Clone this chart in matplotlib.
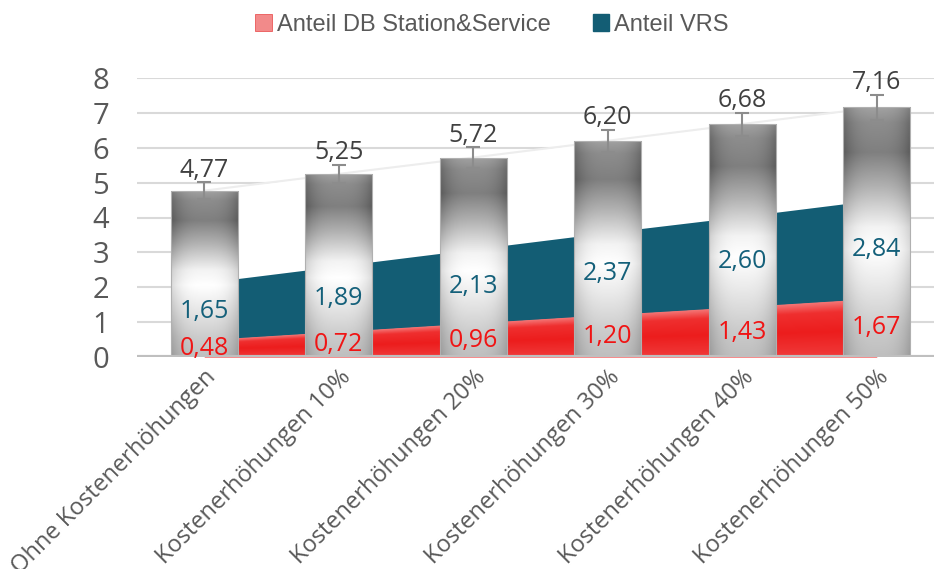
import numpy as np
import matplotlib.pyplot as plt
from matplotlib.patches import Patch
from matplotlib.colors import LinearSegmentedColormap

# --- Data ---
categories = ["Ohne Kostenerhöhungen", "Kostenerhöhungen 10%", "Kostenerhöhungen 20%",
              "Kostenerhöhungen 30%", "Kostenerhöhungen 40%", "Kostenerhöhungen 50%"]
db_share = [0.48, 0.72, 0.96, 1.20, 1.43, 1.67]
vrs_share = [1.65, 1.89, 2.13, 2.37, 2.60, 2.84]
totals = [4.77, 5.25, 5.72, 6.20, 6.68, 7.16]
errors = [0.24, 0.26, 0.29, 0.31, 0.33, 0.36]
legend_labels = ["Anteil DB Station&Service", "Anteil VRS"]

# --- Style ---
GREY_TXT = '#595959'
TEAL = '#135d74'
RED = '#ee1c1c'
plt.rcParams['font.family'] = ['Open Sans', 'DejaVu Sans']

fig = plt.figure(figsize=(9.34, 5.69), dpi=100)
ax = fig.add_axes([137 / 934, 212 / 569, 807 / 934, 279 / 569])

x = np.arange(len(categories))
db = np.array(db_share)
vrs_top = db + np.array(vrs_share)
tot = np.array(totals)

# grid + baseline
ax.set_axisbelow(True)
ax.yaxis.grid(True, color='#d9d9d9', lw=1.5, zorder=0)
for s in ax.spines.values():
    s.set_visible(False)
ax.axhline(0, color='#bfbfbf', lw=3, zorder=7)

# --- stacked areas ---
ax.fill_between(x, vrs_top, tot, color='white', lw=0, zorder=1)
ax.plot(x, tot, color='#ededed', lw=1.5, zorder=1.1)
ax.fill_between(x, db, vrs_top, color=TEAL, lw=0, zorder=1.2)
red_poly = ax.fill_between(x, 0, db, color=RED, lw=0, zorder=1.3)

# red gradient (lighter at top edge)
gx = np.linspace(x[0], x[-1], 400)
gy = np.linspace(0, db.max(), 200)
GX, GY = np.meshgrid(gx, gy)
local_top = np.interp(GX, x, db)
t = np.clip(GY / local_top, 0, 1)
red_cmap = LinearSegmentedColormap.from_list(
    'redgrad', [(0, '#f03a3a'), (0.45, '#ec1d1d'), (0.8, '#ef2f2f'), (1.0, '#f47a7a')])
im = ax.imshow(t, extent=[x[0], x[-1], 0, db.max()], origin='lower', aspect='auto',
               cmap=red_cmap, vmin=0, vmax=1, zorder=1.35, interpolation='bilinear')
im.set_clip_path(red_poly.get_paths()[0], transform=ax.transData)

# --- gradient bars ---
width = 0.5
bars = ax.bar(x, tot, width=width, color='none', edgecolor='#b0b0b0', lw=0.8, zorder=4)
grey_cmap = LinearSegmentedColormap.from_list('greybar', ['#555555', '#ffffff'])
for xi, h, bar in zip(x, tot, bars):
    u = np.linspace(0, 1, 80)
    v = np.linspace(0, 1, 300)
    U, V = np.meshgrid(u, v)
    g = np.interp(V, [0, 0.12, 0.30, 0.43, 0.52, 0.68, 0.82, 0.94, 1.0],
                  [0.62, 0.70, 0.88, 1.0, 0.93, 0.55, 0.25, 0.33, 0.45])
    g = g - 0.22 * np.abs(2 * U - 1) ** 3
    img = ax.imshow(np.clip(g, 0, 1), extent=[xi - width / 2, xi + width / 2, 0, h],
                    origin='lower', aspect='auto', cmap=grey_cmap, vmin=0, vmax=1,
                    zorder=3.5, interpolation='bilinear')
    img.set_clip_path(bar)

ax.errorbar(x, tot, yerr=errors, fmt='none', ecolor='#8c8c8c', elinewidth=1.5,
            capsize=5, capthick=1.5, zorder=6)

# --- labels ---
fmt = lambda v: f"{v:.2f}".replace('.', ',')
for xi, d, vs, h, e in zip(x, db, vrs_share, tot, errors):
    ax.text(xi, d / 2, fmt(d), ha='center', va='center', color='#f01414', fontsize=18, zorder=8)
    ax.text(xi, d + vs / 2, fmt(vs), ha='center', va='center', color='#14607a', fontsize=18, zorder=8)
    ax.annotate(fmt(h), (xi, h + e), xytext=(0, 4), textcoords='offset points',
                ha='center', va='baseline', color='#404040', fontsize=18, zorder=8)

ax.set_xlim(-0.5, 5.5)
ax.set_ylim(0, 8)
ax.set_yticks(range(0, 9))
ax.tick_params(axis='y', length=0, pad=20, labelsize=21, labelcolor=GREY_TXT)
ax.set_xticks(x)
ax.set_xticklabels(categories, rotation=45, ha='right', rotation_mode='anchor',
                   fontsize=17, color=GREY_TXT)
ax.tick_params(axis='x', length=0, pad=6)

handles = [Patch(facecolor='#f28a8a', edgecolor='#e84040', lw=0.5),
           Patch(facecolor=TEAL, edgecolor=TEAL)]
fig.legend(handles, legend_labels, loc='center', bbox_to_anchor=(492 / 934, 1 - 25 / 569),
           ncol=2, frameon=False, handlelength=0.7, handleheight=0.7,
           handletextpad=0.2, columnspacing=1.8, labelcolor=GREY_TXT,
           prop={'family': ['Liberation Sans', 'DejaVu Sans'], 'size': 17})

fig.savefig('out.png', dpi=100)
